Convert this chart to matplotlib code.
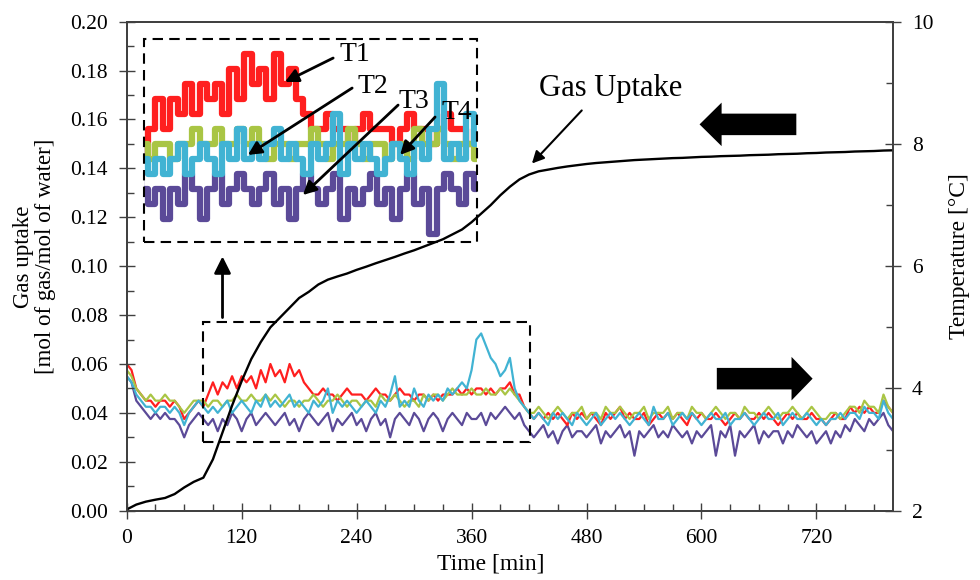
import numpy as np
import matplotlib
matplotlib.use("Agg")
import matplotlib.pyplot as plt
from matplotlib.patches import Rectangle, FancyArrow
from matplotlib.ticker import MultipleLocator, FormatStrFormatter

plt.rcParams['font.family'] = ['Liberation Serif', 'DejaVu Serif']

# gas uptake, mol of gas / mol of water, logged every 10 min
t_gas = np.arange(0, 810, 10)
gas_uptake = [
    0.0005, 0.0025, 0.0037, 0.0045, 0.0052, 0.0068, 0.0095, 0.0118, 0.0135, 0.0210,
    0.0320, 0.0430, 0.0530, 0.0620, 0.0690, 0.0750, 0.0790, 0.0830, 0.0870, 0.0895,
    0.0925, 0.0945, 0.0958, 0.0970, 0.0985, 0.0998, 0.1012, 0.1025, 0.1038, 0.1052,
    0.1065, 0.1080, 0.1095, 0.1110, 0.1130, 0.1150, 0.1180, 0.1215, 0.1250, 0.1290,
    0.1325, 0.1355, 0.1375, 0.1388, 0.1395, 0.1402, 0.1408, 0.1413, 0.1418, 0.1422,
    0.1425, 0.1428, 0.1431, 0.1434, 0.1436, 0.1438, 0.1440, 0.1442, 0.1443, 0.1445,
    0.1447, 0.1448, 0.1450, 0.1451, 0.1452, 0.1454, 0.1455, 0.1456, 0.1458, 0.1459,
    0.1460, 0.1462, 0.1463, 0.1465, 0.1466, 0.1467, 0.1469, 0.1470, 0.1471, 0.1473,
    0.1474,
]

# thermocouple readings (deg C), every 5 min
t_temp = np.arange(0, 805, 5)
temp_t1 = [
    4.4, 4.3, 4.0, 3.9, 3.8, 3.8, 3.7, 3.8, 3.8, 3.7, 3.8, 3.7, 3.5, 3.6, 3.7, 3.8,
    3.7, 3.9, 4.1, 3.9, 4.1, 4.0, 4.2, 4.0, 4.2, 4.1, 4.2, 4.0, 4.3, 4.1, 4.4, 4.2,
    4.3, 4.1, 4.4, 4.2, 4.3, 4.1, 4.0, 3.9, 3.9, 4.0, 3.9, 3.9, 3.8, 3.9, 4.0, 3.9,
    3.9, 3.9, 3.8, 3.9, 4.0, 3.9, 3.9, 3.8, 3.9, 4.0, 3.9, 3.9, 3.8, 3.9, 3.9, 3.8,
    3.9, 3.8, 3.9, 3.9, 3.9, 4.0, 3.9, 4.0, 3.9, 4.0, 4.0, 3.9, 4.0, 3.9, 4.0, 4.0,
    4.1, 3.9, 3.9, 3.7, 3.6, 3.5, 3.6, 3.5, 3.6, 3.5, 3.6, 3.5, 3.4, 3.6, 3.5, 3.6,
    3.5, 3.6, 3.5, 3.4, 3.6, 3.5, 3.6, 3.7, 3.5, 3.6, 3.5, 3.5, 3.6, 3.4, 3.5, 3.6,
    3.5, 3.6, 3.5, 3.6, 3.5, 3.4, 3.6, 3.5, 3.6, 3.5, 3.5, 3.6, 3.5, 3.4, 3.5, 3.6,
    3.5, 3.6, 3.5, 3.5, 3.6, 3.5, 3.6, 3.5, 3.4, 3.5, 3.6, 3.5, 3.6, 3.5, 3.5, 3.6,
    3.5, 3.5, 3.4, 3.5, 3.6, 3.5, 3.5, 3.7, 3.6, 3.7, 3.6, 3.7, 3.6, 3.6, 3.8, 3.7,
    3.6,
]
temp_t2 = [
    4.3, 4.2, 4.0, 3.9, 3.8, 3.9, 3.8, 3.8, 3.9, 3.8, 3.8, 3.7, 3.6, 3.7, 3.8, 3.8,
    3.8, 3.7, 3.8, 3.8, 3.7, 3.8, 3.8, 3.9, 3.8, 3.8, 3.9, 3.8, 3.8, 3.9, 3.8, 3.9,
    3.8, 3.7, 3.8, 3.8, 3.7, 3.8, 3.8, 3.9, 3.8, 3.7, 3.8, 3.8, 3.9, 3.8, 3.7, 3.8,
    3.8, 3.7, 3.8, 3.8, 3.7, 3.9, 3.8, 3.8, 3.9, 3.8, 3.7, 3.8, 3.8, 3.7, 3.9, 3.8,
    3.9, 3.9, 3.8, 3.9, 4.0, 3.9, 3.9, 3.9, 4.0, 3.9, 3.9, 4.0, 3.9, 3.9, 4.0, 3.9,
    4.0, 3.9, 3.8, 3.7, 3.6, 3.6, 3.7, 3.6, 3.5, 3.6, 3.7, 3.6, 3.5, 3.6, 3.6, 3.7,
    3.5, 3.6, 3.6, 3.5, 3.7, 3.6, 3.6, 3.7, 3.6, 3.5, 3.6, 3.6, 3.7, 3.5, 3.6, 3.6,
    3.6, 3.7, 3.5, 3.6, 3.6, 3.5, 3.7, 3.6, 3.6, 3.5, 3.6, 3.7, 3.6, 3.5, 3.6, 3.6,
    3.5, 3.7, 3.6, 3.6, 3.5, 3.6, 3.7, 3.6, 3.5, 3.6, 3.6, 3.7, 3.6, 3.5, 3.6, 3.7,
    3.6, 3.5, 3.5, 3.6, 3.6, 3.5, 3.6, 3.7, 3.7, 3.6, 3.8, 3.7, 3.7, 3.6, 3.9, 3.7,
    3.6,
]
temp_t3 = [
    4.2, 4.1, 3.8, 3.7, 3.6, 3.5, 3.6, 3.5, 3.6, 3.5, 3.5, 3.4, 3.2, 3.4, 3.5, 3.6,
    3.5, 3.4, 3.5, 3.3, 3.5, 3.4, 3.6, 3.5, 3.3, 3.5, 3.6, 3.4, 3.5, 3.6, 3.5, 3.4,
    3.5, 3.6, 3.4, 3.5, 3.3, 3.5, 3.6, 3.5, 3.4, 3.5, 3.6, 3.3, 3.5, 3.4, 3.5, 3.6,
    3.4, 3.5, 3.3, 3.5, 3.6, 3.4, 3.5, 3.2, 3.5, 3.6, 3.5, 3.4, 3.6, 3.5, 3.3, 3.5,
    3.6, 3.5, 3.3, 3.5, 3.6, 3.5, 3.4, 3.6, 3.5, 3.5, 3.6, 3.4, 3.6, 3.5, 3.6, 3.7,
    3.6, 3.5, 3.6, 3.4, 3.3, 3.2, 3.3, 3.4, 3.2, 3.3, 3.1, 3.3, 3.4, 3.2, 3.3, 3.3,
    3.2, 3.3, 3.4, 3.1, 3.3, 3.2, 3.3, 3.4, 3.2, 3.3, 2.9, 3.3, 3.2, 3.3, 3.4, 3.2,
    3.3, 3.2, 3.4, 3.3, 3.2, 3.3, 3.1, 3.3, 3.2, 3.3, 3.4, 2.9, 3.3, 3.2, 3.4, 2.9,
    3.3, 3.2, 3.3, 3.4, 3.1, 3.3, 3.2, 3.3, 3.3, 3.1, 3.3, 3.2, 3.4, 3.3, 3.2, 3.3,
    3.1, 3.2, 3.3, 3.1, 3.3, 3.2, 3.4, 3.3, 3.5, 3.4, 3.3, 3.5, 3.4, 3.5, 3.6, 3.4,
    3.3,
]
temp_t4 = [
    4.2, 4.1, 3.9, 3.8, 3.7, 3.7, 3.6, 3.7, 3.7, 3.6, 3.7, 3.6, 3.4, 3.6, 3.7, 3.8,
    3.7, 3.6, 3.7, 3.6, 3.7, 3.8, 3.6, 3.7, 3.8, 3.7, 3.6, 3.8, 3.7, 3.9, 3.7, 3.8,
    3.7, 3.8, 3.9, 3.7, 3.8, 3.7, 3.6, 3.8, 3.7, 3.8, 4.0, 3.6, 3.8, 3.7, 3.8, 3.7,
    3.6, 3.7, 3.8, 3.7, 3.6, 3.8, 3.7, 3.9, 4.2, 3.7, 3.8, 3.7, 4.0, 3.8, 3.7, 3.9,
    3.8, 3.9, 3.8, 4.0, 3.9, 4.0, 4.1, 4.0, 4.3, 4.8, 4.9, 4.7, 4.5, 4.4, 4.2, 4.3,
    4.5, 4.0, 3.8, 3.7, 3.6, 3.5, 3.6, 3.5, 3.4, 3.6, 3.5, 3.6, 3.5, 3.4, 3.6, 3.5,
    3.4, 3.5, 3.6, 3.4, 3.5, 3.6, 3.5, 3.6, 3.5, 3.4, 3.5, 3.6, 3.5, 3.4, 3.7, 3.5,
    3.5, 3.6, 3.4, 3.5, 3.6, 3.5, 3.6, 3.5, 3.4, 3.5, 3.6, 3.5, 3.5, 3.6, 3.4, 3.5,
    3.5, 3.6, 3.5, 3.4, 3.5, 3.6, 3.5, 3.5, 3.6, 3.4, 3.5, 3.6, 3.5, 3.5, 3.6, 3.5,
    3.4, 3.5, 3.4, 3.5, 3.5, 3.6, 3.5, 3.6, 3.6, 3.5, 3.7, 3.6, 3.6, 3.5, 3.8, 3.6,
    3.5,
]

series = [
    ('T3', temp_t3, '#5b4a98'),
    ('T1', temp_t1, '#ff1f1f'),
    ('T2', temp_t2, '#a9c544'),
    ('T4', temp_t4, '#41b3d3'),
]

spine_col = '#404040'

fig = plt.figure(figsize=(9.8, 5.8), dpi=100)
ax = fig.add_axes([0.1293, 0.1195, 0.782, 0.8431])
ax2 = ax.twinx()
ax.set_zorder(ax2.get_zorder() + 1)
ax.patch.set_visible(False)

# temperatures on the right-hand scale
for name, vals, col in series:
    ax2.plot(t_temp, vals, color=col, lw=1.6)

# gas uptake on the left-hand scale
ax.plot(t_gas, gas_uptake, color='k', lw=1.7)

ax.set_xlim(0, 800)
ax.set_ylim(0, 0.20)
ax2.set_ylim(2, 10)

ax.xaxis.set_major_locator(MultipleLocator(120))
ax.xaxis.set_minor_locator(MultipleLocator(30))
ax.yaxis.set_major_locator(MultipleLocator(0.02))
ax.yaxis.set_minor_locator(MultipleLocator(0.01))
ax.yaxis.set_major_formatter(FormatStrFormatter('%.2f'))
ax2.yaxis.set_major_locator(MultipleLocator(2))
ax2.yaxis.set_minor_locator(MultipleLocator(1))

ax.tick_params(axis='y', which='major', direction='inout', length=11, width=1, pad=8,
               labelsize=15.5, colors=spine_col, labelcolor='k')
ax.tick_params(axis='y', which='minor', direction='in', length=5, width=1, colors=spine_col)
ax.tick_params(axis='x', which='major', direction='inout', length=11, width=1, pad=8,
               labelsize=15.5, colors=spine_col, labelcolor='k')
ax.tick_params(axis='x', which='minor', direction='in', length=5, width=1, colors=spine_col)
ax2.tick_params(axis='y', which='major', direction='inout', length=11, width=1, pad=8,
                labelsize=15.5, colors=spine_col, labelcolor='k')
ax2.tick_params(axis='y', which='minor', direction='in', length=5, width=1, colors=spine_col)

for a in (ax, ax2):
    for sp in a.spines.values():
        sp.set_color(spine_col)
        sp.set_linewidth(1.3)

ax.set_xlabel('Time [min]', fontsize=17)
ax.xaxis.set_label_coords(0.475, -0.088)
ax.set_ylabel('Gas uptake\n[mol of gas/mol of water]', fontsize=16.5, linespacing=1.05)
ax.yaxis.set_label_coords(-0.092, 0.52)
ax2.set_ylabel('Temperature [\u00b0C]', fontsize=17)
ax2.yaxis.set_label_coords(1.073, 0.52)

# dashed box around the section that is blown up in the inset
ax2.add_patch(Rectangle((80, 3.12), 341, 1.96, fill=False, ec='k', lw=1.5,
                        ls=(0, (5, 3)), zorder=5))
ax.annotate('', xy=(100, 0.104), xytext=(100, 0.079),
            arrowprops=dict(arrowstyle='-|>', lw=2, color='k', mutation_scale=25,
                            shrinkA=0, shrinkB=0))

# block arrows telling which axis each curve belongs to
ax.add_patch(FancyArrow(699, 0.158, -101, 0, width=0.0088, head_width=0.0178,
                        head_length=23, length_includes_head=True, color='k', lw=0))
ax.add_patch(FancyArrow(616, 0.054, 100, 0, width=0.0088, head_width=0.0178,
                        head_length=22, length_includes_head=True, color='k', lw=0))

ax.text(505, 0.1727, 'Gas Uptake', fontsize=22, ha='center', va='center')
ax.annotate('', xy=(423, 0.142), xytext=(475, 0.1637),
            arrowprops=dict(arrowstyle='-|>', lw=1.5, color='k', mutation_scale=18,
                            shrinkA=0, shrinkB=0))

# inset: magnified temperatures between 80 and 305 min
ins = fig.add_axes([0.1473, 0.5833, 0.3398, 0.3495])
for name, vals, col in series:
    ins.plot(t_temp, vals, color=col, lw=4.5, drawstyle='steps-mid')
ins.set_xlim(80, 305)
ins.set_ylim(3.15, 4.5)
ins.set_xticks([])
ins.set_yticks([])
for sp in ins.spines.values():
    sp.set_visible(False)
ins.add_patch(Rectangle((0, 0), 1, 1, transform=ins.transAxes, fill=False, ec='k',
                        lw=1.5, ls=(0, (5, 3)), clip_on=False, zorder=5))

labels = [
    ('T1', (0.633, 0.921), (0.567, 0.906), (0.422, 0.788)),
    ('T2', (0.687, 0.768), (0.624, 0.758), (0.311, 0.428)),
    ('T3', (0.810, 0.694), (0.762, 0.674), (0.476, 0.230)),
    ('T4', (0.939, 0.635), (0.873, 0.615), (0.768, 0.428)),
]
for txt, pos, tail, tip in labels:
    ins.text(pos[0], pos[1], txt, transform=ins.transAxes, fontsize=20,
             ha='center', va='center', zorder=6)
    ins.annotate('', xy=tip, xytext=tail, xycoords='axes fraction',
                 arrowprops=dict(arrowstyle='-|>', lw=2, color='k', mutation_scale=20,
                                 shrinkA=0, shrinkB=0), zorder=6)

fig.savefig('out.png', dpi=100)
